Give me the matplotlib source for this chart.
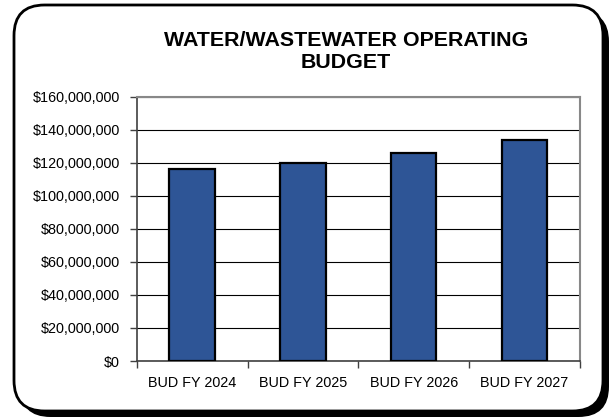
import matplotlib
matplotlib.use("Agg")
import matplotlib.pyplot as plt
from matplotlib.patches import FancyBboxPatch
from matplotlib.ticker import FuncFormatter, MultipleLocator

plt.rcParams["font.family"] = ["Liberation Sans", "DejaVu Sans"]

years = ["BUD FY 2024", "BUD FY 2025", "BUD FY 2026", "BUD FY 2027"]
budget = [116000000, 119600000, 126100000, 133700000]

W, H = 611, 417
fig = plt.figure(figsize=(W / 100, H / 100), dpi=100)


def px_box(x0, y0, x1, y1):
    # pixel box (top-left origin) -> figure fraction
    return x0 / W, 1 - y1 / H, (x1 - x0) / W, (y1 - y0) / H


# rounded frame with a drop shadow
sx, sy, sw, sh = px_box(20, 11, 609, 417)
shadow = FancyBboxPatch((sx, sy), sw, sh, boxstyle="round,pad=0,rounding_size=0.05",
                        transform=fig.transFigure, facecolor="black", edgecolor="none",
                        mutation_aspect=W / H, zorder=0)
fig.patches.append(shadow)
fx, fy, fw, fh = px_box(14, 5, 603, 411)
frame = FancyBboxPatch((fx, fy), fw, fh, boxstyle="round,pad=0,rounding_size=0.05",
                       transform=fig.transFigure, facecolor="white", edgecolor="black",
                       linewidth=2, mutation_aspect=W / H, zorder=1)
fig.patches.append(frame)

ax = fig.add_axes([136.7 / W, 1 - 361 / H, (580 - 136.7) / W, (361 - 96.6) / H])
ax.set_zorder(2)

x = range(len(years))
ax.bar(x, budget, width=0.41, color="#2E5596", edgecolor="black", linewidth=1.6, zorder=3)

ax.set_xlim(-0.5, len(years) - 0.5)
ax.set_ylim(0, 160000000)
ax.yaxis.set_major_locator(MultipleLocator(20000000))
ax.yaxis.set_major_formatter(FuncFormatter(lambda v, p: "${:,.0f}".format(v)))
ax.grid(axis="y", color="black", linewidth=0.8, zorder=1)

ax.set_xticks([i + 0.5 for i in range(-1, len(years))], minor=False)
ax.set_xticklabels([])
ax.set_xticks(list(x), minor=True)
ax.set_xticklabels(years, minor=True)
ax.tick_params(axis="x", which="minor", length=0, labelsize=10.4, pad=11)
ax.tick_params(axis="x", which="major", length=5, width=1, color="#404040")
ax.tick_params(axis="y", length=5, width=1, color="#404040", labelsize=10.4, pad=7)

for side in ["top", "right"]:
    ax.spines[side].set_color("#888888")
    ax.spines[side].set_linewidth(1.5)
for side in ["left", "bottom"]:
    ax.spines[side].set_color("#404040")
    ax.spines[side].set_linewidth(1.2)

fig.text(346 / W, 1 - 41 / H, "WATER/WASTEWATER OPERATING", ha="center", va="center",
         fontsize=15.4, fontweight="bold", zorder=3)
fig.text(346 / W, 1 - 63 / H, "BUDGET", ha="center", va="center",
         fontsize=15.4, fontweight="bold", zorder=3)

fig.savefig("out.png", dpi=100)
